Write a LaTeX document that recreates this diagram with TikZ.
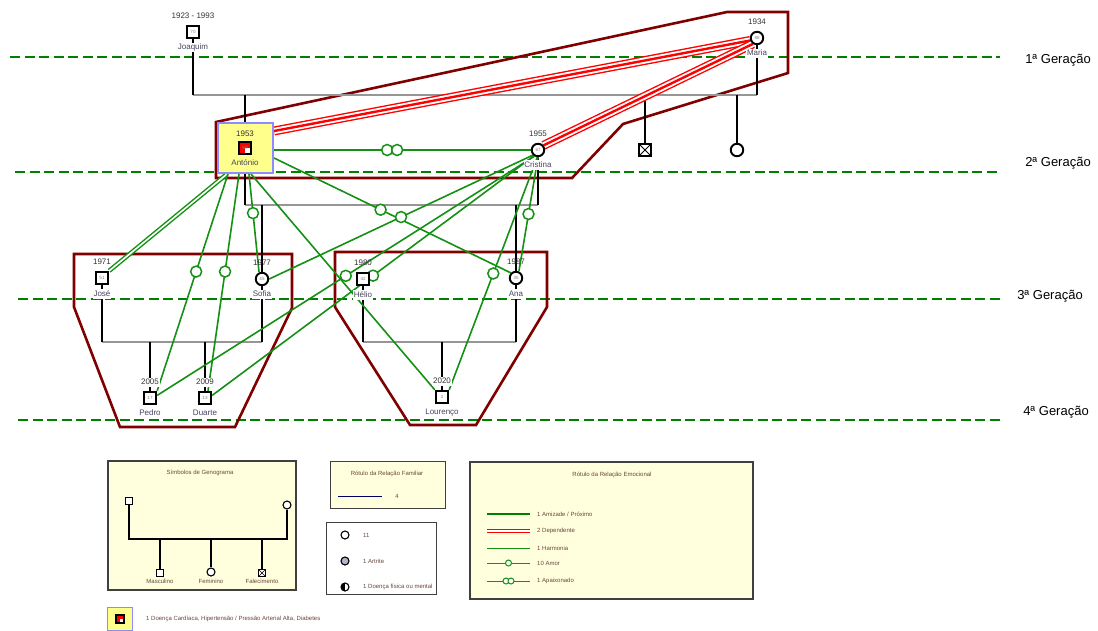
\documentclass[tikz,border=0pt]{standalone}
\usepackage{fontspec}
\setmainfont{Liberation Sans}
\setsansfont{Liberation Sans}
\usetikzlibrary{positioning}
\usetikzlibrary{backgrounds}
\definecolor{verde}{RGB}{0,128,0}
\definecolor{emo}{RGB}{20,145,20}
\definecolor{bordo}{RGB}{128,0,0}
\definecolor{creme}{RGB}{255,255,221}
\definecolor{amarelo}{RGB}{255,255,140}
\definecolor{lilas}{RGB}{140,140,255}
\definecolor{cinza}{RGB}{150,150,150}
\definecolor{texto}{RGB}{70,70,95}
\definecolor{legtexto}{RGB}{105,70,60}
\tikzset{every picture/.style={/utils/exec={\sffamily}}}
\tikzset{
  homem/.style={draw, line width=1.9pt, fill=white, minimum size=12.5pt, inner sep=0pt, font=\fontsize{4.5}{5}\selectfont, text=gray},
  mulher/.style={homem, circle, minimum size=12.5pt},
  falecido/.style={homem, minimum size=12.5pt, path picture={\draw[line width=0.8pt] (path picture bounding box.north west) -- (path picture bounding box.south east) (path picture bounding box.north east) -- (path picture bounding box.south west);}},
  ano/.style={font=\fontsize{8}{9}\selectfont, text=black!80, inner sep=0.8pt, text height=6pt, text depth=1.5pt},
  nome/.style={ano, text=texto, fill=white},
  geracao/.style={draw=verde, line width=2.6pt, dash pattern=on 10pt off 4.5pt},
  agregado/.style={draw=bordo, line width=2.6pt},
  casal/.style={draw=cinza, line width=1.8pt},
  filho/.style={draw=black, line width=1.8pt},
  harmonia/.style={draw=emo, line width=1.6pt},
  amor/.style={circle, draw=emo, line width=1.5pt, fill=white, minimum size=11pt, inner sep=0pt},
  amizade/.style={draw=emo, line width=4.5pt, postaction={draw=white, line width=1.6pt}},
  dependente/.style={draw=red, line width=9pt, postaction={draw=white, line width=6.2pt}, postaction={draw=red, line width=2.4pt}},
  legenda/.style={draw=black!75, line width=1.2pt, fill=creme},
  leg/.style={font=\fontsize{6}{7}\selectfont, text=legtexto, inner sep=1pt},
  legsimb/.style={draw, line width=1.1pt, fill=white, minimum size=7pt, inner sep=0pt},
}

\begin{document}
\begin{tikzpicture}[x=1pt, y=-1pt]
  \useasboundingbox (0,0) rectangle (1098,630);

  % 1a geracao
  \node[homem] (joaquim) at (193,32) {70};
  \node[ano, above=3.5pt of joaquim] (joaquimano) {1923 - 1993};
  \node[nome, below=3.5pt of joaquim] (joaquimnome) {Joaquim};
  \node[mulher] (maria) at (757,38) {88};
  \node[ano, above=3.5pt of maria] (mariaano) {1934};
  \node[nome, below=3.5pt of maria] (marianome) {Maria};

  % 2a geracao
  \node[draw=lilas, line width=2pt, fill=amarelo, minimum width=55pt, minimum height=50pt] (antoniobox) at (245.5,148) {};
  \node[homem, fill=red, minimum size=12pt, path picture={\fill[white] (path picture bounding box.center) rectangle (path picture bounding box.south east);}] (antonio) at (245,148) {69};
  \node[ano, above=2pt of antonio] (antonioano) {1953};
  \node[ano, text=texto, below=4pt of antonio] (antonionome) {António};
  \node[falecido] (filho) at (645,150) {};
  \node[mulher] (filha) at (737,150) {};
  \node[mulher] (cristina) at (538,150) {67};
  \node[ano, above=3.5pt of cristina] (cristinaano) {1955};
  \node[nome, below=3pt of cristina] (cristinanome) {Cristina};

  % 3a geracao
  \node[homem] (jose) at (102,278) {51};
  \node[ano, above=3.5pt of jose] (joseano) {1971};
  \node[nome, below=4pt of jose] (josenome) {José};
  \node[mulher] (sofia) at (262,279) {45};
  \node[ano, above=3.5pt of sofia] (sofiaano) {1977};
  \node[nome, below=3.5pt of sofia] (sofianome) {Sofia};
  \node[homem] (helio) at (363,279) {42};
  \node[ano, above=3.5pt of helio] (helioano) {1980};
  \node[nome, below=4pt of helio] (helionome) {Hélio};
  \node[mulher] (ana) at (516,278) {35};
  \node[ano, above=3.5pt of ana] (anaano) {1987};
  \node[nome, below=4pt of ana] (ananome) {Ana};

  % 4a geracao
  \node[homem] (pedro) at (150,398) {17};
  \node[ano, fill=white, above=3.5pt of pedro] (pedroano) {2005};
  \node[nome, below=3pt of pedro] (pedronome) {Pedro};
  \node[homem] (duarte) at (205,398) {13};
  \node[ano, fill=white, above=3.5pt of duarte] (duarteano) {2009};
  \node[nome, below=3pt of duarte] (duartenome) {Duarte};
  \node[homem] (lourenco) at (442,397) {2};
  \node[ano, fill=white, above=3.5pt of lourenco] (lourencoano) {2020};
  \node[nome, below=3pt of lourenco] (lourenconome) {Lourenço};

  \node[font=\fontsize{13}{15}\selectfont] (ger1) at (1058,60) {1ª Geração};
  \node[font=\fontsize{13}{15}\selectfont] (ger2) at (1058,163) {2ª Geração};
  \node[font=\fontsize{13}{15}\selectfont] (ger3) at (1050,296) {3ª Geração};
  \node[font=\fontsize{13}{15}\selectfont] (ger4) at (1056,412) {4ª Geração};

  \begin{scope}[on background layer]
    \draw[geracao] (10,57) -- (1000,57);
    \draw[geracao] (15,172) -- (1000,172);
    \draw[geracao] (18,299) -- (1000,299);
    \draw[geracao] (18,420) -- (1000,420);

    \draw[agregado] (216,178) -- (216,122) -- (727,12) -- (788,12) -- (788,73) -- (623,124) -- (572,178) -- cycle;
    \draw[agregado] (74,254) -- (292,254) -- (292,308) -- (235,427) -- (120,427) -- (74,307) -- cycle;
    \draw[agregado] (335,252) -- (547,252) -- (547,307) -- (476,425) -- (410,425) -- (335,307) -- cycle;

    % relacoes familiares
    \coordinate (uniao1) at (475,95);
    \draw[casal] (joaquim |- uniao1) -- (maria |- uniao1);
    \draw[filho] (joaquim.south) -- (joaquim |- uniao1);
    \draw[filho] (maria.south) -- (maria |- uniao1);
    \draw[filho] (antonio |- uniao1) -- (antonio |- antoniobox.north);
    \draw[filho] (filho |- uniao1) -- (filho.north);
    \draw[filho] (filha |- uniao1) -- (filha.north);

    \coordinate (uniao2) at (390,205);
    \draw[casal] (antonio |- uniao2) -- (cristina |- uniao2);
    \draw[filho] (antonio |- antoniobox.south) -- (antonio |- uniao2);
    \draw[filho] (cristina.south) -- (cristina |- uniao2);
    \draw[filho] (sofia |- uniao2) -- (sofia.north);
    \draw[filho] (ana |- uniao2) -- (ana.north);

    \coordinate (uniao3) at (180,342);
    \draw[casal] (jose |- uniao3) -- (sofia |- uniao3);
    \draw[filho] (jose.south) -- (jose |- uniao3);
    \draw[filho] (sofia.south) -- (sofia |- uniao3);
    \draw[filho] (pedro |- uniao3) -- (pedro.north);
    \draw[filho] (duarte |- uniao3) -- (duarte.north);

    \coordinate (uniao4) at (440,342);
    \draw[casal] (helio |- uniao4) -- (ana |- uniao4);
    \draw[filho] (helio.south) -- (helio |- uniao4);
    \draw[filho] (ana.south) -- (ana |- uniao4);
    \draw[filho] (lourenco |- uniao4) -- (lourenco.north);

    % relacoes emocionais
    \draw[dependente] ([yshift=17pt]antoniobox.east) -- (maria.200);
    \draw[dependente] (cristina.40) -- (maria.235);
    \draw[harmonia] ([yshift=-2pt]antoniobox.east) -- node[amor, pos=0.46, xshift=-5pt] (paixao1) {} node[amor, pos=0.46, xshift=5pt] (paixao2) {} (cristina.west);
    \draw[amizade] ([xshift=10pt]antoniobox.south west) -- (jose.north east);
    \draw[harmonia] ([xshift=11pt]antoniobox.south west) -- node[amor, pos=0.45] (amor1) {} (pedro.north east);
    \draw[harmonia] ([xshift=22pt]antoniobox.south west) -- node[amor, pos=0.45] (amor2) {} ([xshift=3pt]duarte.north);
    \draw[harmonia] ([xshift=32pt]antoniobox.south west) -- node[amor, pos=0.4] (amor3) {} ([xshift=-3pt]sofia.north);
    \draw[harmonia] ([xshift=34pt]antoniobox.south west) -- (lourenco.north west);
    \draw[harmonia] ([yshift=-10pt]antoniobox.east) -- node[amor, pos=0.45] (amor4) {} (ana.north west);
    \draw[harmonia] (cristina.south west) -- node[amor, pos=0.5] (amor5) {} (sofia.east);
    \draw[harmonia] (cristina.south) -- node[amor, pos=0.5] (amor6) {} ([xshift=3pt]ana.north);
    \draw[harmonia] (cristina.240) -- node[amor, pos=0.5] (amor7) {} (pedro.20);
    \draw[harmonia] (cristina.235) -- node[amor, pos=0.5] (amor8) {} (duarte.20);
    \draw[harmonia] (cristina.265) -- node[amor, pos=0.5] (amor9) {} (lourenco.north east);
  \end{scope}

  % legenda: simbolos
  \node[legenda, minimum width=188pt, minimum height=129pt] (simbolos) at (202,525.5) {};
  \node[leg] (simbolostit) at (200,473) {Símbolos de Genograma};
  \node[legsimb] (legpai) at (129,501) {};
  \node[legsimb, circle, minimum size=8pt] (legmae) at (287,505) {};
  \node[legsimb] (legmasc) at (160,573) {};
  \node[legsimb, circle, minimum size=8pt] (legfem) at (211,572) {};
  \node[legsimb, path picture={\draw[line width=0.6pt] (path picture bounding box.north west) -- (path picture bounding box.south east) (path picture bounding box.north east) -- (path picture bounding box.south west);}] (legfal) at (262,573) {};
  \coordinate (leguniao) at (208,539);
  \draw[line width=1.2pt] (legpai.south) |- (leguniao) -| (legmae.south);
  \draw[line width=1.2pt] (legmasc |- leguniao) -- (legmasc.north);
  \draw[line width=1.2pt] (legfem |- leguniao) -- (legfem.north);
  \draw[line width=1.2pt] (legfal |- leguniao) -- (legfal.north);
  \node[leg] (legmasctxt) at (160,581) {Masculino};
  \node[leg] (legfemtxt) at (211,581) {Feminino};
  \node[leg] (legfaltxt) at (262,581) {Falecimento};

  % legenda: relacao familiar
  \node[legenda, minimum width=115pt, minimum height=47pt] (familiar) at (388,485) {};
  \node[leg] (familiartit) at (387,474) {Rótulo da Relação Familiar};
  \draw[blue!40!black, line width=0.8pt] (338,496) -- (382,496);
  \node[leg] (familiarnum) at (397,496) {4};

  % legenda: doencas
  \node[draw=black!75, line width=1.2pt, fill=white, minimum width=110pt, minimum height=72pt] (doencas) at (381.5,558.5) {};
  \node[legsimb, circle, minimum size=8pt] (legsaude) at (345,535) {};
  \node[legsimb, circle, minimum size=8pt, fill=blue!20!gray!50] (legartrite) at (345,561) {};
  \node[legsimb, circle, minimum size=8pt, path picture={\fill[black] (path picture bounding box.north west) rectangle (path picture bounding box.south);}] (legmental) at (345,587) {};
  \node[leg, anchor=west] (legsaudetxt) at (362,535) {11};
  \node[leg, anchor=west] (legartritetxt) at (362,561) {1 Artrite};
  \node[leg, anchor=west] (legmentaltxt) at (362,587) {1 Doença física ou mental};

  % legenda: relacao emocional
  \node[legenda, minimum width=283pt, minimum height=137pt] (emocional) at (611.5,530.5) {};
  \node[leg] (emocionaltit) at (612,475) {Rótulo da Relação Emocional};
  \draw[verde, line width=2.4pt] (487,514) -- (530,514);
  \draw[red, line width=4.5pt, postaction={draw=white, line width=1.2pt}] (487,531) -- (530,531);
  \draw[emo, line width=1pt] (487,548) -- (530,548);
  \draw[emo, line width=1pt] (487,563) -- node[circle, draw=emo, fill=white, line width=1pt, minimum size=6pt, inner sep=0pt] (legamor) {} (530,563);
  \draw[emo, line width=1pt] (487,581) -- node[circle, draw=emo, fill=white, line width=1pt, minimum size=6pt, inner sep=0pt, xshift=-2.5pt] (legpaixao1) {} node[circle, draw=emo, fill=white, line width=1pt, minimum size=6pt, inner sep=0pt, xshift=2.5pt] (legpaixao2) {} (530,581);
  \node[leg, anchor=west] (legamizade) at (536,514) {1 Amizade / Próximo};
  \node[leg, anchor=west] (legdependente) at (536,531) {2 Dependente};
  \node[leg, anchor=west] (legharmonia) at (536,548) {1 Harmonia};
  \node[leg, anchor=west] (legamortxt) at (536,563) {10 Amor};
  \node[leg, anchor=west] (legpaixaotxt) at (536,581) {1 Apaixonado};

  % legenda: doenca cardiaca
  \node[draw=lilas, line width=1.5pt, fill=amarelo, minimum width=25pt, minimum height=23pt] (cardiaca) at (120,619) {};
  \node[legsimb, fill=red, minimum size=8pt, path picture={\fill[white] (path picture bounding box.center) rectangle (path picture bounding box.south east);}] (cardicone) at (120,619) {};
  \node[leg, anchor=west] (cardiacatxt) at (145,619) {1 Doença Cardíaca, Hipertensão / Pressão Arterial Alta, Diabetes};
\end{tikzpicture}
\end{document}
